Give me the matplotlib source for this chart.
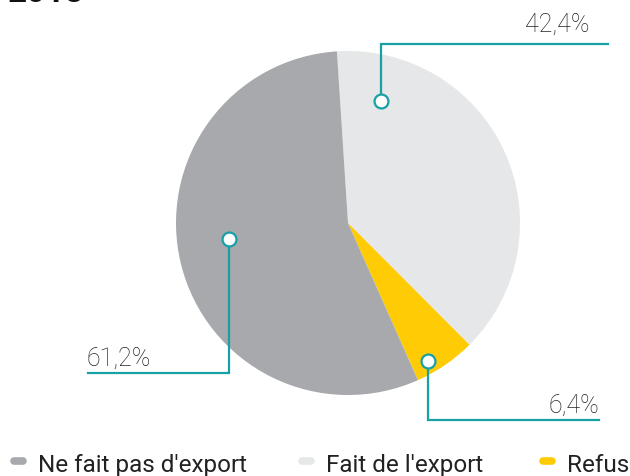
import matplotlib
matplotlib.use('Agg')
import matplotlib.pyplot as plt

plt.rcParams['font.family'] = ['Roboto', 'DejaVu Sans']

# Data
labels = ["Ne fait pas d'export", "Fait de l'export", "Refus"]
values = [61.2, 42.4, 6.4]
value_labels = ['61,2%', '42,4%', '6,4%']
colors = ['#a7a9ac', '#e6e7e8', '#ffcb05']
teal = '#17a0a6'

W, H = 630, 477
fig = plt.figure(figsize=(W / 100, H / 100), dpi=100)
ax = fig.add_axes([0, 0, 1, 1])

def Y(y):
    return H - y

# pie: light grey first, going clockwise from the top
order = [1, 2, 0]
ax.pie([values[i] for i in order], colors=[colors[i] for i in order],
       startangle=93.7, counterclock=False, center=(348, Y(224)), radius=172,
       wedgeprops=dict(linewidth=0), frame=True)
ax.set_xlim(0, W)
ax.set_ylim(0, H)
ax.set_aspect('auto')
ax.axis('off')

# title (cut off at the top)
ax.text(8, Y(2), '2018', fontsize=24, fontweight='bold', color='#111111',
        ha='left', va='baseline')

# leader lines: dot, corner, end, label position, label alignment
leaders = [
    # 61,2%
    dict(pts=[(229, 240), (229, 374), (88, 374)], txt=(87, 366), ha='left', lab=value_labels[0]),
    # 42,4%
    dict(pts=[(381, 102), (381, 45), (608, 45)], txt=(589, 32), ha='right', lab=value_labels[1]),
    # 6,4%
    dict(pts=[(428, 362), (428, 421), (599, 421)], txt=(599, 413), ha='right', lab=value_labels[2]),
]
for ld in leaders:
    xs = [p[0] for p in ld['pts']]
    ys = [Y(p[1]) for p in ld['pts']]
    ax.plot(xs, ys, color=teal, lw=1.6, solid_joinstyle='miter', zorder=3)
    ax.plot(xs[0], ys[0], 'o', ms=10, mfc='white', mec=teal, mew=1.6, zorder=4)
    ax.text(ld['txt'][0], Y(ld['txt'][1]), ld['lab'], fontsize=18, fontweight='light',
            color='#222222', ha=ld['ha'], va='baseline')

# legend
leg_x = [10, 298, 539]
for x0, lab, c in zip(leg_x, labels, colors):
    ax.plot([x0 + 4, x0 + 13], [Y(462), Y(462)], color=c, lw=5.5, solid_capstyle='round')
    ax.text(x0 + 28, Y(472), lab, fontsize=17.5, color='#222222', ha='left', va='baseline')

fig.savefig('out.png', dpi=100)
